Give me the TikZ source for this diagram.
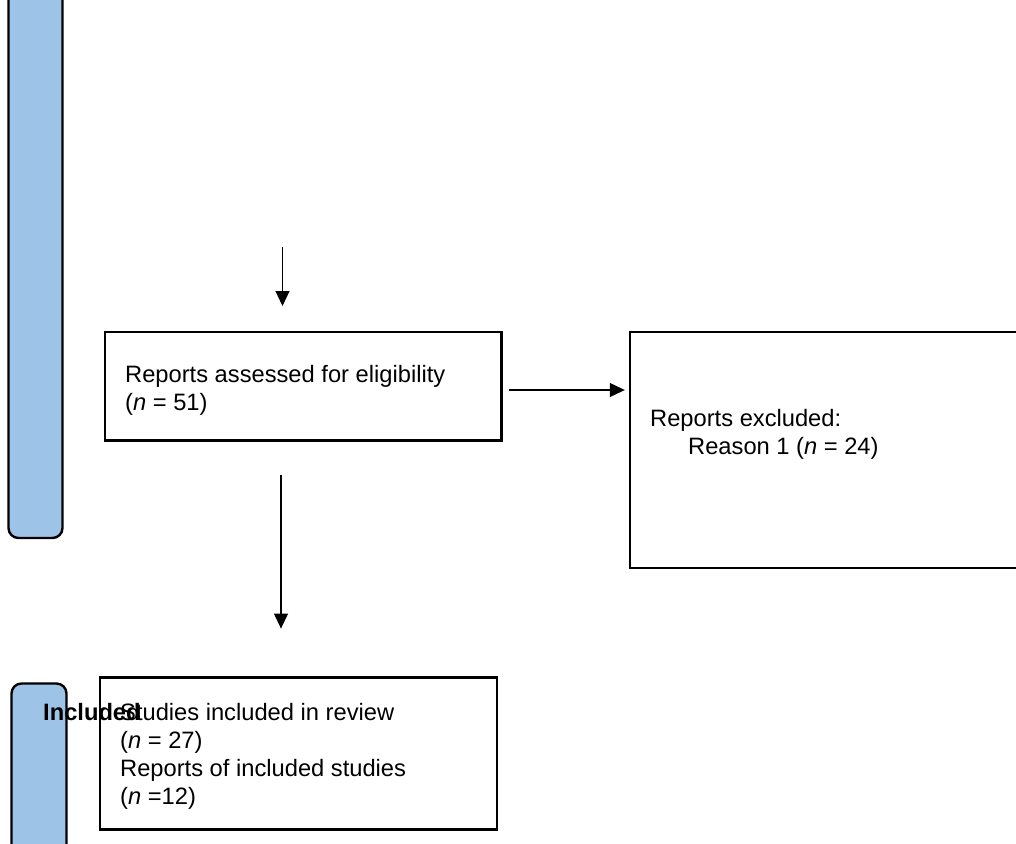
\documentclass[tikz,border=0pt]{standalone}
\usepackage{fontspec}
\setmainfont{Liberation Sans}
\usetikzlibrary{arrows.meta}

\begin{document}
\begin{tikzpicture}[x=1pt, y=-1pt]
	\definecolor{phasecolor}{RGB}{157, 195, 230}
	\tikzset{
		box/.style={draw, line width=2.4pt, inner sep=0pt},
		phase/.style={draw, line width=2.4pt, fill=phasecolor, rounded corners=10pt, inner sep=0pt},
		txt/.style={align=left, anchor=base west, inner sep=0pt, font=\fontsize{23.7}{28}\selectfont},
		arr/.style={line width=1.1pt, -{Triangle[length=15pt, width=14pt]}},
	}
	\useasboundingbox (0,0) rectangle (1016,843);
	\clip (0,0) rectangle (1016,843);

	% phase bars
	\node[phase, minimum width=54, minimum height=600] (screenBar) at (35.5, 238) {};
	\node[phase, minimum width=55, minimum height=200] (inclBar) at (39, 783.5) {};

	% boxes
	\node[box, minimum width=396.5, minimum height=108.5] (elig) at (303.25, 386.25) {};
	\node[box, minimum width=450, minimum height=236.5] (excl) at (855, 450) {};
	\node[box, minimum width=396.5, minimum height=152] (incl) at (298.5, 753.3) {};

	% texts (base = last line)
	\node[txt] (eligTxt) at (125, 410) {Reports assessed for eligibility\\(\textit{n} = 51)};
	\node[txt] (exclTxt) at (650, 454) {Reports excluded:\\\hspace*{38pt}Reason 1 (\textit{n} = 24)};
	\node[txt, font=\fontsize{23.7}{28}\selectfont\bfseries] (inclLbl) at (43, 720) {Included};
	\node[txt] (inclTxt) at (120, 804) {Studies included in review\\(\textit{n} = 27)\\Reports of included studies\\(\textit{n} =12)};

	% arrows
	\coordinate (topStart) at (282.5, 247);
	\coordinate (topEnd) at (282.5, 306);
	\coordinate (midX) at (281, 0);
	\draw[arr] (topStart) -- (topEnd);
	\draw[arr, shorten <=33.5pt, shorten >=47.5pt] (elig.south -| midX) -- (incl.north -| midX);
	\draw[arr, shorten <=6pt, shorten >=4pt] (elig.east |- 0,390) -- (excl.west |- 0,390);
\end{tikzpicture}
\end{document}
